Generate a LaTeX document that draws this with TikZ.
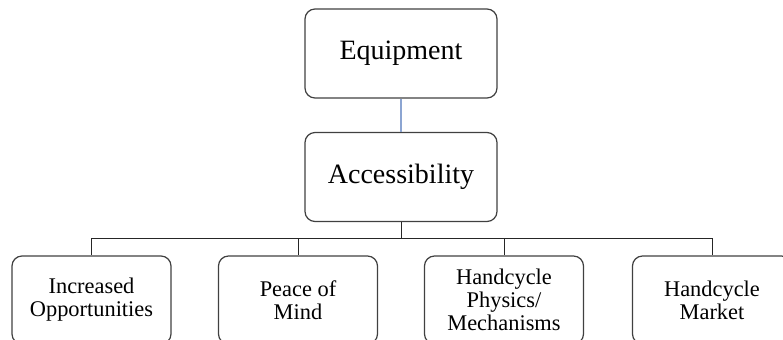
\documentclass[tikz,border=0pt]{standalone}
\usepackage{fontspec}
\setmainfont{Liberation Serif}
\usetikzlibrary{positioning}
\definecolor{linkblue}{RGB}{140,165,210}

\begin{document}
\begin{tikzpicture}[x=0.5pt, y=-0.5pt,
    box/.style={draw=black!75, rounded corners=5pt, line width=0.6pt, align=center,
                minimum width=79.5pt, minimum height=44pt, inner sep=0pt,
                font=\fontsize{11.2}{11.4}\selectfont},
    topbox/.style={box, minimum width=96pt, minimum height=44.5pt,
                   font=\fontsize{14}{16}\selectfont},
    link/.style={draw=black!85, line width=0.5pt},
]
\useasboundingbox (0,0) rectangle (783,339);
\clip (0,0) rectangle (783,339);

% ===== Top of the tree =====
\node[topbox] (eq)  at (401,53.5) {Equipment};
\node[topbox] (acc) at (401,177)  {Accessibility};

% ===== Bottom row =====
\node[box] (opp)  at (91.5,300) {Increased\\Opportunities};
\node[box] (mind) at (298,300)  {Peace of\\Mind};
\node[box] (phys) at (504,300)  {Handcycle\\Physics/\\Mechanisms};
\node[box] (mkt)  at (712,300)  {Handcycle\\Market};

\coordinate (bus) at (401,238);

% ===== Connectors =====
\draw[link, draw=linkblue, line width=0.7pt] (eq) -- (acc);
\draw[link] (acc.south) -- (acc.south |- bus);
\foreach \n in {opp,mind,phys,mkt}
    \draw[link] (acc.south |- bus) -| (\n.north);

\end{tikzpicture}
\end{document}
